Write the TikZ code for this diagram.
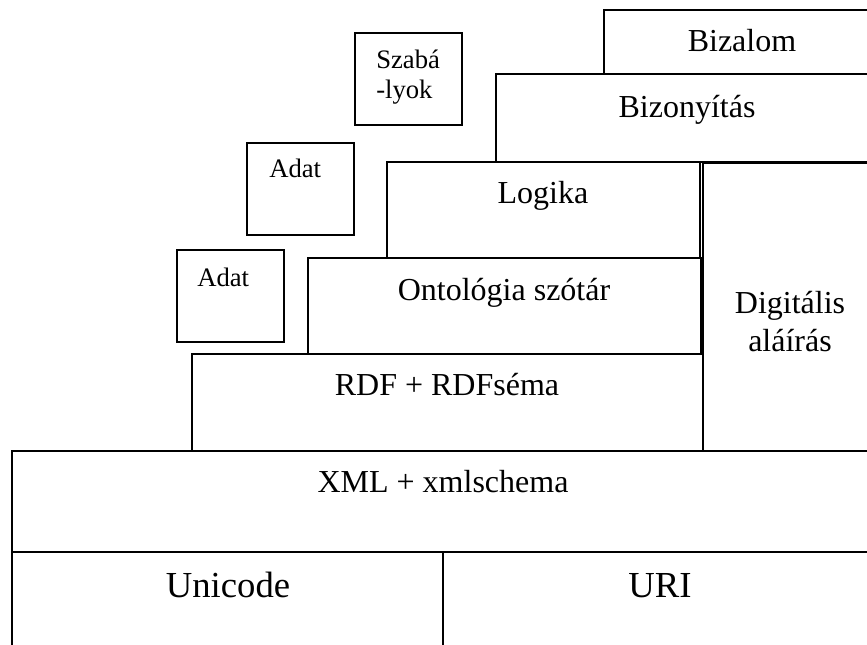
\documentclass[tikz,border=0pt]{standalone}
\usepackage{fontspec}
\setmainfont{Liberation Serif}
\usetikzlibrary{fit}
\begin{document}
\begin{tikzpicture}[x=0.75pt,y=-0.75pt,
  layer/.style={draw=black,line width=1.4pt,inner sep=0pt,rectangle},
  lbl/.style={anchor=base,inner sep=0pt,font=\fontsize{24pt}{28pt}\selectfont},
  biglbl/.style={anchor=base,inner sep=0pt,font=\fontsize{27.5pt}{32pt}\selectfont},
  smalllbl/.style={anchor=base west,inner sep=0pt,font=\fontsize{20pt}{24pt}\selectfont}]
\useasboundingbox (0,0) rectangle (867,644);
\clip (0,0) rectangle (867,644);
% layer boxes of the stack
\node[layer,fit={(604,10) (880,74)}] (bizalom) {};
\node[layer,fit={(496,74) (880,162)}] (bizonyitas) {};
\node[layer,fit={(387,162) (700,258)}] (logika) {};
\node[layer,fit={(703,163) (880,451)}] (digit) {};
\node[layer,fit={(308,258) (701,354)}] (onto) {};
\node[layer,fit={(192,354) (703,451)}] (rdf) {};
\node[layer,fit={(12,451) (880,552)}] (xml) {};
\node[layer,fit={(12,552) (443,660)}] (unicode) {};
\node[layer,fit={(443,552) (880,660)}] (uri) {};
% small side boxes
\node[layer,fit={(355,33) (462,125)}] (szab) {};
\node[layer,fit={(247,143) (354,235)}] (adatA) {};
\node[layer,fit={(177,250) (284,342)}] (adatB) {};
% labels
\node[lbl] (tBizalom) at (742,51) {Bizalom};
\node[lbl] (tBizony) at (687,117) {Bizonyítás};
\node[lbl] (tLogika) at (543,203) {Logika};
\node[lbl] (tOnto) at (504,300) {Ontológia szótár};
\node[lbl] (tRdf) at (447,395) {RDF + RDFséma};
\node[lbl] (tXml) at (443,492) {XML + xmlschema};
\node[biglbl] (tUni) at (228,597) {Unicode};
\node[biglbl] (tUri) at (660,597) {URI};
\node[lbl] (tDig1) at (790,313) {Digitális};
\node[lbl] (tDig2) at (790,351) {aláírás};
\node[smalllbl] (tSz1) at (376,68) {Szabá};
\node[smalllbl] (tSz2) at (376,98) {-lyok};
\node[smalllbl] (tAdA) at (269,177) {Adat};
\node[smalllbl] (tAdB) at (197,286) {Adat};
\end{tikzpicture}
\end{document}
